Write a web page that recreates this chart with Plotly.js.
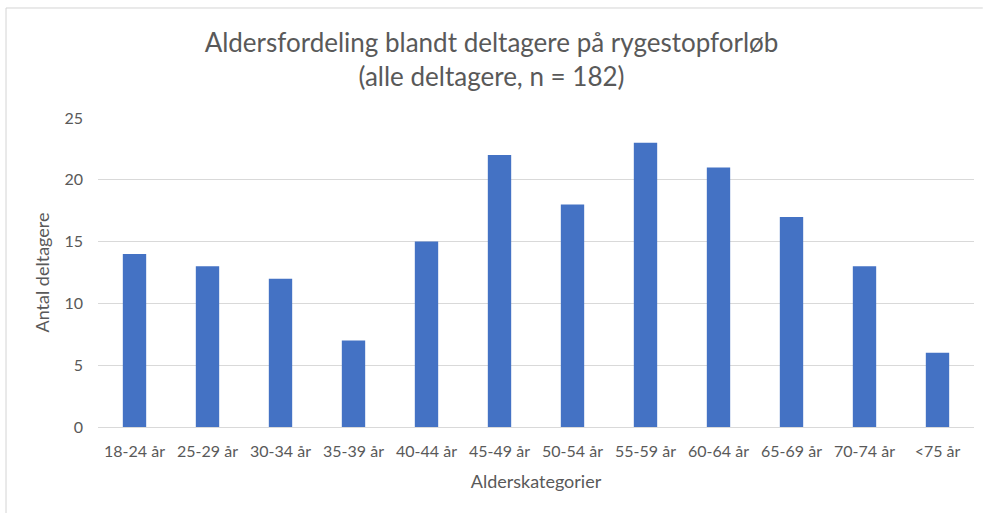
<!DOCTYPE html>
<html>
<head>
<meta charset="utf-8">
<script src="https://cdn.plot.ly/plotly-3.0.1.min.js"></script>
<style>html,body{margin:0;padding:0;background:#fff;}#chart{width:983px;height:513px;}</style>
</head>
<body>
<div id="chart"></div>
<script>
const categories = ["18-24 år","25-29 år","30-34 år","35-39 år","40-44 år","45-49 år","50-54 år","55-59 år","60-64 år","65-69 år","70-74 år","<75 år"];
const counts = [14, 13, 12, 7, 15, 22, 18, 23, 21, 17, 13, 6];
const tickVals = [0, 5, 10, 15, 20, 25];

const font = "Lato, 'Open Sans', sans-serif";
const grey = "#595959";

const trace = {
  type: "bar",
  x: categories,
  y: counts,
  marker: {color: "#4472C4"},
  hoverinfo: "x+y"
};

const layout = {
  width: 983, height: 513,
  margin: {l: 98, r: 9, t: 118, b: 86},
  paper_bgcolor: "#fff", plot_bgcolor: "#fff",
  bargap: 0.68,
  showlegend: false,
  font: {family: font, color: grey},
  title: {
    text: "Aldersfordeling blandt deltagere på rygestopforløb<br>(alle deltagere, n = 182)",
    font: {family: font, size: 26, color: grey},
    x: 0.5, xanchor: "center", y: 0.898, yanchor: "top"
  },
  xaxis: {
    type: "category",
    tickfont: {size: 16, color: grey, family: font},
    ticklabelstandoff: 10,
    showgrid: false,
    showline: true, linecolor: "#d9d9d9", linewidth: 1,
    ticks: "",
    title: {text: "Alderskategorier", font: {size: 18, color: grey, family: font}, standoff: 16}
  },
  yaxis: {
    range: [0, 25],
    tickvals: tickVals,
    tickfont: {size: 16, color: grey, family: font},
    ticklabelstandoff: 14,
    showgrid: true, gridcolor: "#d9d9d9", gridwidth: 1,
    zeroline: false, showline: false, ticks: "",
    ticklen: 0,
    title: {text: "Antal deltagere", font: {size: 18, color: grey, family: font}, standoff: 10}
  },
  shapes: [
    {type: "line", xref: "paper", yref: "paper", x0: -0.105, x1: -0.105, y0: -0.3, y1: 1.356, line: {color: "#d4d4d4", width: 1}},
    {type: "line", xref: "paper", yref: "paper", x0: -0.105, x1: 1.01, y0: 1.356, y1: 1.356, line: {color: "#d4d4d4", width: 1}}
  ]
};

Plotly.newPlot("chart", [trace], layout, {displayModeBar: false, staticPlot: true});
</script>
</body>
</html>
